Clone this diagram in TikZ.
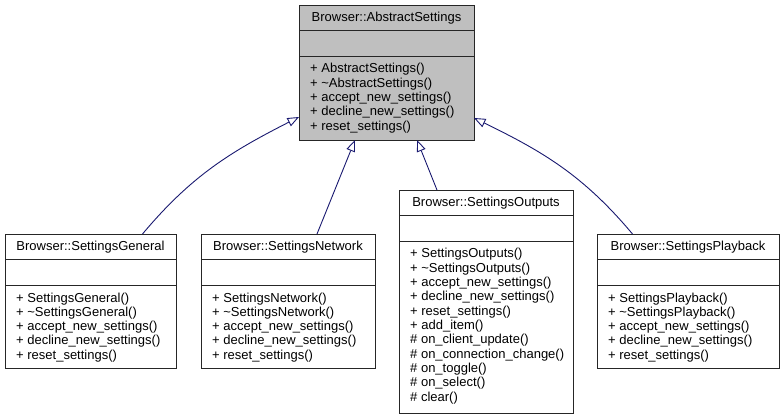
\documentclass[tikz,border=0pt]{standalone}
\usepackage{fontspec}
\setmainfont{Liberation Sans}
\usetikzlibrary{arrows.meta,calc}
\definecolor{basegray}{HTML}{BFBFBF}
\definecolor{navyline}{HTML}{191970}
\tikzset{
  boxline/.style={draw=black!85, line width=0.9pt},
  plainbox/.style={boxline, fill=white, rectangle, inner sep=0pt, outer sep=0pt, anchor=north west},
  basebox/.style={boxline, fill=basegray, rectangle, inner sep=0pt, outer sep=0pt, anchor=north west},
  titletext/.style={inner sep=0pt, anchor=base, font=\fontsize{13}{14.3}\selectfont},
  membertext/.style={inner sep=0pt, anchor=base west, font=\fontsize{13}{14.3}\selectfont},
  inherit/.style={draw=navyline, line width=0.9pt, -{Triangle[fill=white, length=11.5pt, width=9pt]}},
}
\newcommand\umlclass[8]{%
  \node[#8, minimum width=#4pt, minimum height=#5pt] (#1) at (#2,-#3) {};
  \draw[boxline] ($(#1.north west)+(0,-25.5)$) -- ($(#1.north east)+(0,-25.5)$);
  \draw[boxline] ($(#1.north west)+(0,-51.5)$) -- ($(#1.north east)+(0,-51.5)$);
  \node[titletext] (#1-title) at ($(#1.north)+(0,-17)$) {#6};
  \foreach \m [count=\i] in {#7} {\node[membertext] (#1-m\i) at ($(#1.north west)+(11,{-68-(\i-1)*14.3})$) {\m};}
}
\begin{document}
\begin{tikzpicture}[x=1pt,y=1pt]
\useasboundingbox (0,0) rectangle (783,-419);
\umlclass{top}{299}{5}{175}{135}{Browser::AbstractSettings}{{+ AbstractSettings()},{+ \textasciitilde AbstractSettings()},{+ accept\_new\_settings()},{+ decline\_new\_settings()},{+ reset\_settings()}}{basebox}
\umlclass{gen}{5}{234}{171}{134.5}{Browser::SettingsGeneral}{{+ SettingsGeneral()},{+ \textasciitilde SettingsGeneral()},{+ accept\_new\_settings()},{+ decline\_new\_settings()},{+ reset\_settings()}}{plainbox}
\umlclass{net}{201}{234}{174}{134.5}{Browser::SettingsNetwork}{{+ SettingsNetwork()},{+ \textasciitilde SettingsNetwork()},{+ accept\_new\_settings()},{+ decline\_new\_settings()},{+ reset\_settings()}}{plainbox}
\umlclass{out}{399}{190}{174}{223}{Browser::SettingsOutputs}{{+ SettingsOutputs()},{+ \textasciitilde SettingsOutputs()},{+ accept\_new\_settings()},{+ decline\_new\_settings()},{+ reset\_settings()},{+ add\_item()},{\# on\_client\_update()},{\# on\_connection\_change()},{\# on\_toggle()},{\# on\_select()},{\# clear()}}{plainbox}
\umlclass{play}{597}{234}{182}{134.5}{Browser::SettingsPlayback}{{+ SettingsPlayback()},{+ \textasciitilde SettingsPlayback()},{+ accept\_new\_settings()},{+ decline\_new\_settings()},{+ reset\_settings()}}{plainbox}
\draw[inherit] ($(gen.north west)+(137.5,0)$) to[out=50,in=207] ($(top.north west)+(0,-112)$);
\draw[inherit] ($(net.north west)+(116,0)$) -- ($(top.south west)+(56,0)$);
\draw[inherit] ($(out.north west)+(38,0)$) -- ($(top.south west)+(118,0)$);
\draw[inherit] ($(play.north west)+(35.5,0)$) to[out=130,in=-26] ($(top.north east)+(0,-113)$);
\end{tikzpicture}
\end{document}
